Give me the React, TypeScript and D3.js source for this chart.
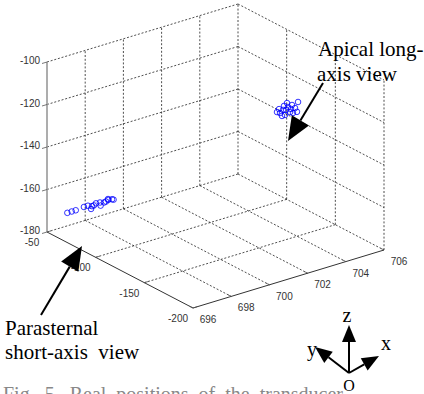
import React from 'react';
import * as d3 from 'd3';

// axis ticks
const xTicks = [696, 698, 700, 702, 704, 706];
const yTicks = [-50, -100, -150, -200];
const zTicks = [-100, -120, -140, -160, -180];

// parasternal short-axis view (x, y, z)
const paraX = [696.81, 697.04, 697.25, 697.73, 697.89, 698.05, 698.2, 698.36, 698.52, 698.68, 698.83, 698.99, 699.15, 699.23, 697.95, 698.45, 698.9];
const paraY = [-55, -55, -55, -54, -55, -56, -55, -54, -55, -56, -55, -54, -55, -55, -57, -57, -56];
const paraZ = [-172, -172, -172, -172, -171.6, -172, -172.3, -172, -171.8, -172, -172.2, -171.7, -172, -172.4, -172.8, -172.6, -171.4];

// apical long-axis view (x, y, z)
const apicX = [705, 705, 705, 705, 705, 705, 705, 705, 705, 705, 705, 705, 705, 705, 705, 705, 705];
const apicY = [-109.7, -112.8, -115.9, -117.9, -121, -123.1, -125.1, -126.1, -128.2, -131.3, -120, -114.8, -130.2, -111.8, -119, -124.1, -116.9];
const apicZ = [-133.9, -133.6, -131.4, -133.3, -128.8, -130.7, -126.9, -130.4, -127.6, -124, -127.2, -134.5, -128.9, -132, -130.7, -129, -129.3];

// screen frame of the 3D box
const origin = [47, 232];      // x=696, y=-50, z=-180
const xVec = [191, -58];
const yVec = [146, 76];
const zVec = [0, -170];

const xs = d3.scaleLinear().domain([696, 706]).range([0, 1]);
const ys = d3.scaleLinear().domain([-50, -200]).range([0, 1]);
const zs = d3.scaleLinear().domain([-180, -100]).range([0, 1]);

const proj = (x: number, y: number, z: number): [number, number] => {
  const a = xs(x), b = ys(y), c = zs(z);
  return [
    origin[0] + a * xVec[0] + b * yVec[0] + c * zVec[0],
    origin[1] + a * xVec[1] + b * yVec[1] + c * zVec[1],
  ];
};

const serif = { fontFamily: '"Times New Roman", "Liberation Serif", serif' };
const sans = { fontFamily: 'Arial, "Liberation Sans", sans-serif' };
const sp = '\u00a0';

function Arrow({ x1, y1, x2, y2, head = 24, w = 10 }: any) {
  const dx = x2 - x1, dy = y2 - y1;
  const len = Math.hypot(dx, dy);
  const ux = dx / len, uy = dy / len;
  const bx = x2 - ux * head, by = y2 - uy * head;
  const pts = [[x2, y2], [bx - uy * w, by + ux * w], [bx + uy * w, by - ux * w]];
  return (
    <g>
      <line x1={x1} y1={y1} x2={bx} y2={by} stroke="#000" strokeWidth={2} />
      <polygon points={pts.map(p => p.join(',')).join(' ')} fill="#000" />
    </g>
  );
}

export default function App() {
  const grid: [number, number, number, number][] = [];
  const seg = (p: [number, number], q: [number, number]) => grid.push([p[0], p[1], q[0], q[1]]);

  // wall y=-50
  xTicks.forEach(x => { if (x !== 696) seg(proj(x, -50, -180), proj(x, -50, -100)); });
  zTicks.forEach(z => seg(proj(696, -50, z), proj(706, -50, z)));
  // wall x=706
  yTicks.forEach(y => { if (y !== -50) seg(proj(706, y, -180), proj(706, y, -100)); });
  zTicks.forEach(z => seg(proj(706, -50, z), proj(706, -200, z)));
  // floor
  xTicks.forEach(x => { if (x !== 696 && x !== 706) seg(proj(x, -50, -180), proj(x, -200, -180)); });
  yTicks.forEach(y => { if (y !== -50 && y !== -200) seg(proj(696, y, -180), proj(706, y, -180)); });

  const A = proj(696, -50, -180);
  const B = proj(696, -200, -180);
  const C = proj(706, -200, -180);
  const Atop = proj(696, -50, -100);

  const para = paraX.map((x, i) => proj(x, paraY[i], paraZ[i]));
  const apic = apicX.map((x, i) => proj(x, apicY[i], apicZ[i]));

  return (
    <svg width={424} height={394} style={{ position: 'absolute', left: 0, top: 0, background: '#fff' }}>
      <rect width={424} height={394} fill="#fff" />
      {grid.map((g, i) => (
        <line key={i} x1={g[0]} y1={g[1]} x2={g[2]} y2={g[3]}
          stroke="#222" strokeWidth={0.8} strokeDasharray="2,1.8" />
      ))}

      {/* axes */}
      <line x1={Atop[0]} y1={Atop[1]} x2={A[0]} y2={A[1]} stroke="#999" strokeWidth={1.6} />
      <line x1={A[0]} y1={A[1]} x2={B[0]} y2={B[1]} stroke="#333" strokeWidth={1} />
      <line x1={B[0]} y1={B[1]} x2={C[0]} y2={C[1]} stroke="#333" strokeWidth={1} />

      <g style={sans} fontSize={10} fill="#333">
        {zTicks.map(z => {
          const p = proj(696, -50, z);
          return (
            <g key={z}>
              <line x1={p[0]} y1={p[1]} x2={p[0] - 5} y2={p[1] + 1.5} stroke="#555" strokeWidth={0.8} />
              <text x={p[0] - 7} y={p[1] + 2} textAnchor="end">{z}</text>
            </g>
          );
        })}
        {yTicks.map(y => {
          const p = proj(696, y, -180);
          return (
            <g key={y}>
              <line x1={p[0]} y1={p[1]} x2={p[0] + 4} y2={p[1] - 1.2} stroke="#555" strokeWidth={0.8} />
              <text x={p[0] - 15} y={p[1] + 14} textAnchor="middle">{y}</text>
            </g>
          );
        })}
        {xTicks.map(x => {
          const p = proj(x, -200, -180);
          return (
            <g key={x}>
              <line x1={p[0]} y1={p[1]} x2={p[0] - 3.5} y2={p[1] - 1.8} stroke="#555" strokeWidth={0.8} />
              <text x={p[0] + 15} y={p[1] + 15} textAnchor="middle">{x}</text>
            </g>
          );
        })}
      </g>

      {/* data */}
      {para.concat(apic).map((p, i) => (
        <circle key={i} cx={p[0]} cy={p[1]} r={2.8} fill="none" stroke="#0000ff" strokeWidth={0.8} />
      ))}

      {/* annotations */}
      <g style={serif} fontSize={21} fill="#000">
        <text x={318} y={56}>Apical long-</text>
        <text x={317} y={81}>axis view</text>
        <text x={5} y={335}>Parasternal</text>
        <text x={5} y={359}>{`short-axis${sp} view`}</text>
      </g>
      <Arrow x1={323} y1={83} x2={288} y2={141} />
      <Arrow x1={41} y1={315} x2={82} y2={246} />

      {/* coordinate icon */}
      <Arrow x1={349} y1={373} x2={349} y2={325} head={17} w={7} />
      <Arrow x1={349} y1={373} x2={379} y2={356} head={17} w={7} />
      <Arrow x1={349} y1={373} x2={315} y2={347} head={17} w={7} />
      <g style={serif} fontSize={20} fill="#000" textAnchor="middle">
        <text x={347} y={322}>z</text>
        <text x={386} y={350}>x</text>
        <text x={312} y={356}>y</text>
        <text x={349} y={391} fontSize={16}>O</text>
      </g>

      <text x={3} y={401} style={serif} fontSize={20} fill="#888">
        {`Fig.${sp} 5.${sp} Real${sp} positions${sp} of${sp} the${sp} transducer`}
      </text>
    </svg>
  );
}
